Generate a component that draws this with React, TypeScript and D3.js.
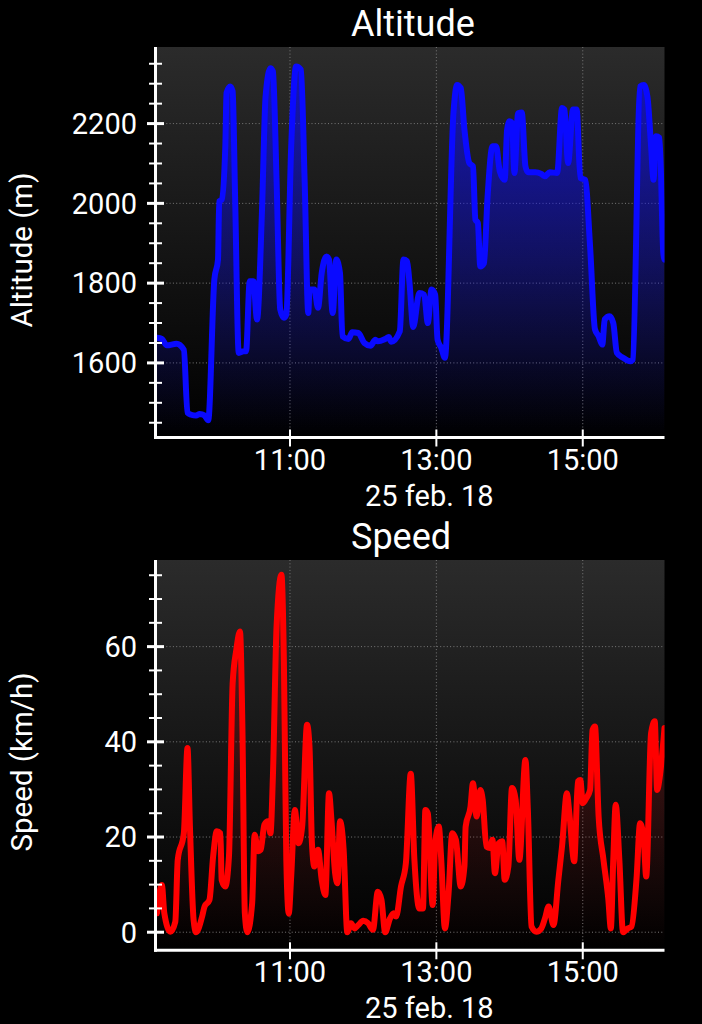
import React from 'react';
import * as d3 from 'd3';

const altTimes = ["09:11","09:15","09:19","09:27","09:33","09:36","09:39","09:43","09:46","09:50","09:53","09:58","10:01","10:02","10:04","10:07","10:08","10:11","10:13","10:15","10:18","10:22","10:24","10:27","10:30","10:33","10:37","10:40","10:44","10:46","10:49","10:52","10:55","10:57","11:01","11:05","11:09","11:12","11:15","11:16","11:20","11:23","11:26","11:30","11:32","11:35","11:38","11:41","11:43","11:48","11:51","11:56","12:01","12:06","12:10","12:12","12:18","12:21","12:23","12:30","12:33","12:36","12:38","12:41","12:46","12:50","12:53","12:56","12:59","13:01","13:04","13:07","13:14","13:17","13:20","13:23","13:27","13:30","13:32","13:34","13:36","13:39","13:42","13:46","13:49","13:52","13:56","13:58","14:00","14:02","14:04","14:07","14:10","14:13","14:15","14:21","14:26","14:29","14:33","14:39","14:43","14:45","14:48","14:52","14:55","14:58","15:02","15:06","15:10","15:13","15:16","15:18","15:22","15:25","15:28","15:33","15:39","15:41","15:47","15:50","15:53","15:56","15:58","16:00","16:03","16:06","16:07"];
const altValues = [1663,1660,1644,1648,1633,1475,1470,1468,1472,1468,1456,1809,1859,2005,2009,2143,2277,2293,2281,2018,1625,1629,1629,1805,1805,1709,1976,2268,2339,2331,2059,1734,1713,1721,2143,2343,2335,2059,1725,1784,1784,1738,1825,1867,1859,1725,1859,1825,1667,1660,1677,1675,1650,1643,1658,1654,1660,1665,1653,1679,1859,1855,1800,1690,1775,1771,1700,1784,1771,1658,1638,1613,2226,2297,2289,2185,2101,2093,1959,1951,1842,1850,2018,2143,2143,2080,2059,2185,2206,2202,2076,2226,2228,2093,2078,2078,2074,2068,2078,2076,2239,2235,2101,2235,2235,2064,2059,1892,1684,1667,1646,1709,1717,1700,1625,1613,1604,1608,2293,2297,2268,2143,2059,2168,2164,1876,1859];

const speedTimes = ["09:11","09:15","09:17","09:22","09:26","09:28","09:33","09:36","09:38","09:41","09:43","09:48","09:50","09:54","09:57","10:00","10:03","10:04","10:07","10:10","10:13","10:16","10:19","10:21","10:23","10:25","10:29","10:31","10:34","10:36","10:39","10:42","10:44","10:46","10:49","10:53","10:55","10:57","10:59","11:01","11:04","11:07","11:10","11:14","11:16","11:18","11:20","11:23","11:26","11:29","11:32","11:34","11:37","11:39","11:41","11:44","11:47","11:50","11:53","11:56","12:00","12:04","12:08","12:12","12:15","12:18","12:22","12:25","12:27","12:31","12:35","12:39","12:42","12:46","12:49","12:51","12:53","12:57","12:59","13:02","13:04","13:07","13:10","13:13","13:16","13:20","13:23","13:24","13:28","13:30","13:33","13:36","13:38","13:41","13:44","13:46","13:48","13:51","13:54","13:56","13:59","14:02","14:05","14:08","14:13","14:15","14:18","14:22","14:26","14:29","14:32","14:36","14:40","14:43","14:47","14:49","14:53","14:56","14:58","15:00","15:03","15:06","15:08","15:10","15:13","15:17","15:21","15:23","15:25","15:27","15:30","15:33","15:37","15:40","15:44","15:47","15:50","15:52","15:56","15:59","16:01","16:03","16:07"];
const speedValues = [4.0,9.9,4.0,0.1,2.2,15.2,20.8,38.7,22.2,2.6,0,3.3,5.4,6.8,15.9,21.2,20.8,11.0,9.6,16.0,52.3,59.3,63.2,43.2,4.0,0,6.1,20.5,17.0,17.3,22.6,23.3,20.8,32.7,64.2,75.1,57.2,15.2,3.9,11.7,25.7,18.7,22.2,43.6,39.0,18.7,13.8,17.3,11.0,7.8,29.2,23.6,12.4,10.3,23.3,17.3,0,1.9,0.8,1.5,2.4,1.9,0.5,8.5,6.8,0,2.9,4.0,3.3,9.6,14.5,33.3,15.2,5.0,5.0,25.7,25.0,5.7,18.7,22.2,15.2,0.8,8.2,20.8,19.4,9.6,13.8,22.2,26.4,31.3,24.3,29.9,27.8,18.0,17.7,19.4,12.4,18.7,19.1,11.0,13.8,30.3,27.8,15.2,36.2,25.7,1.2,0.1,0.8,2.9,5.4,1.5,11.0,18.0,29.2,25.0,14.9,31.7,32.0,27.1,28.2,29.9,42.5,43.2,24.3,15.2,6.8,0.8,15.2,26.8,15.2,0,0.8,1.2,11.0,22.9,19.4,11.7,41.8,44.3,29.9,32.4,42.9];

const altMajorTicks = [1600, 1800, 2000, 2200];
const altMinorTicks = [1450, 1500, 1550, 1650, 1700, 1750, 1850, 1900, 1950, 2050, 2100, 2150, 2250, 2300, 2350];
const speedMajorTicks = [0, 20, 40, 60];
const speedMinorTicks = [5, 10, 15, 25, 30, 35, 45, 50, 55, 65, 70, 75];
const timeTicks = ["11:00", "13:00", "15:00"];
const dateLabel = "25 feb. 18";

const parse = d3.timeParse("%Y-%m-%d %H:%M");
const toDate = (t: string) => parse("2018-02-25 " + t) as Date;

const FONT = "Roboto, 'Noto Sans', sans-serif";
const LEFT = 156;
const RIGHT = 664.5;

const xDomain = d3.extent([...altTimes, ...speedTimes].map(toDate)) as [Date, Date];
const x = d3.scaleTime().domain(xDomain).range([LEFT + 1, RIGHT]);

type ChartProps = {
  id: string;
  top: number;
  bottom: number;
  yDomain: [number, number];
  times: string[];
  values: number[];
  color: string;
  fillOpacity: number;
  title: string;
  yLabel: string;
  yLabelY: number;
  major: number[];
  minor: number[];
};

function Chart(p: ChartProps) {
  const y = d3.scaleLinear().domain(p.yDomain).range([p.bottom, p.top]);
  const pts = p.times.map((t, i) => ({ t: toDate(t), v: p.values[i] }));
  const line = d3.line<any>().x(d => x(d.t)).y(d => y(d.v)).curve(d3.curveMonotoneX);
  const area = d3.area<any>().x(d => x(d.t)).y0(p.bottom).y1(d => y(d.v)).curve(d3.curveMonotoneX);
  const plotL = LEFT + 1;
  return (
    <g>
      <defs>
        <linearGradient id={p.id + "bg"} x1="0" y1={p.top} x2="0" y2={p.bottom} gradientUnits="userSpaceOnUse">
          <stop offset="0" stopColor="#2b2b2b" />
          <stop offset="1" stopColor="#000000" />
        </linearGradient>
        <linearGradient id={p.id + "fill"} x1="0" y1={p.top} x2="0" y2={p.bottom} gradientUnits="userSpaceOnUse">
          <stop offset="0" stopColor={p.color} stopOpacity={p.fillOpacity} />
          <stop offset="1" stopColor={p.color} stopOpacity={0} />
        </linearGradient>
        <clipPath id={p.id + "clip"}>
          <rect x={plotL} y={p.top} width={RIGHT - plotL} height={p.bottom - p.top} />
        </clipPath>
      </defs>
      <rect x={plotL} y={p.top} width={RIGHT - plotL} height={p.bottom - p.top} fill={`url(#${p.id}bg)`} />
      {p.major.map(v => (
        <line key={"gh" + v} x1={plotL + 6} x2={RIGHT} y1={y(v)} y2={y(v)} stroke="#7a7a7a" strokeWidth={1} strokeDasharray="1,2.3" />
      ))}
      {timeTicks.map(t => (
        <line key={"gv" + t} x1={x(toDate(t))} x2={x(toDate(t))} y1={p.top} y2={p.bottom} stroke="#7a7a7a" strokeWidth={1} strokeDasharray="1,2.3" />
      ))}
      <g clipPath={`url(#${p.id}clip)`}>
        <path d={area(pts) || ""} fill={`url(#${p.id}fill)`} />
        <path d={line(pts) || ""} fill="none" stroke={p.color} strokeWidth={6} strokeLinejoin="round" strokeLinecap="round" />
      </g>
      <line x1={LEFT - 0.5} x2={LEFT - 0.5} y1={p.top} y2={p.bottom + 1.5} stroke="#fff" strokeWidth={3} />
      <line x1={LEFT - 2} x2={RIGHT} y1={p.bottom} y2={p.bottom} stroke="#fff" strokeWidth={3} />
      {p.major.map(v => (
        <g key={"mt" + v}>
          <line x1={LEFT - 9} x2={LEFT + 8} y1={y(v)} y2={y(v)} stroke="#fff" strokeWidth={3} />
          <text x={137} y={y(v)} dy="0.355em" textAnchor="end" fill="#fff" fontSize={29} fontFamily={FONT}>{v}</text>
        </g>
      ))}
      {p.minor.map(v => (
        <line key={"mn" + v} x1={LEFT - 7} x2={LEFT + 6} y1={y(v)} y2={y(v)} stroke="#fff" strokeWidth={2} />
      ))}
      {timeTicks.map(t => (
        <g key={"xt" + t}>
          <line x1={x(toDate(t))} x2={x(toDate(t))} y1={p.bottom - 8} y2={p.bottom + 9} stroke="#fff" strokeWidth={2} />
          <text x={x(toDate(t))} y={p.bottom + 32} textAnchor="middle" fill="#fff" fontSize={29} fontFamily={FONT}>{t.replace(/^0/, "")}</text>
        </g>
      ))}
      <text x={365} y={p.bottom + 68} fill="#fff" fontSize={29} fontFamily={FONT}>{dateLabel}</text>
      <text x={351} y={p.top - 11.5} fill="#fff" fontSize={36} fontFamily={FONT}>{p.title}</text>
      <text transform={`translate(32,${p.yLabelY}) rotate(-90)`} textAnchor="middle" fill="#fff" fontSize={29.5} fontFamily={FONT}>{p.yLabel}</text>
    </g>
  );
}

export default function App() {
  return (
    <svg width={702} height={1024} style={{ position: "absolute", left: 0, top: 0, display: "block" }}>
      <rect x={0} y={0} width={702} height={1024} fill="#000" />
      <Chart id="alt" top={47} bottom={437.5} yDomain={[1413, 2392]} times={altTimes} values={altValues}
        color="#0a0aff" fillOpacity={0.7} title="Altitude" yLabel="Altitude (m)" yLabelY={250}
        major={altMajorTicks} minor={altMinorTicks} />
      <Chart id="spd" top={560} bottom={950.3} yDomain={[-3.8, 78.2]} times={speedTimes} values={speedValues}
        color="#ff0000" fillOpacity={0.3} title="Speed" yLabel="Speed (km/h)" yLabelY={762}
        major={speedMajorTicks} minor={speedMinorTicks} />
    </svg>
  );
}
